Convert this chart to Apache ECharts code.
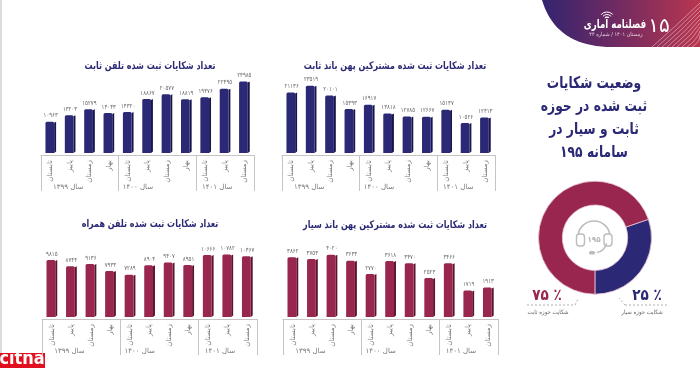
<!DOCTYPE html>
<html>
<head>
<meta charset="utf-8">
<style>
  html, body { margin: 0; padding: 0; background: #fff; }
  #chart { width: 700px; height: 368px; }
</style>
<script src="https://cdn.jsdelivr.net/npm/echarts@6/dist/echarts.min.js"></script>
</head>
<body>
<div id="chart"></div>
<script>
  const seasons = ['تابستان', 'پاییز', 'زمستان', 'بهار', 'تابستان', 'پاییز', 'زمستان', 'بهار', 'تابستان', 'پاییز', 'زمستان'];
  const years = ['سال ۱۳۹۹', 'سال ۱۴۰۰', 'سال ۱۴۰۱'];

  const fixedPhone = [10963, 13203, 15279, 14043, 14320, 18867, 20577, 18819, 19476, 22495, 24985];
  const fixedBroadband = [21136, 23519, 20101, 15393, 16917, 13818, 12785, 12667, 15137, 10526, 12413];
  const mobilePhone = [9815, 8744, 9136, 7933, 7289, 8904, 9407, 8951, 10666, 10782, 10467];
  const mobileBroadband = [3862, 3753, 4020, 3633, 2770, 3618, 3470, 2523, 3466, 1719, 1913];

  // the ring in the picture is not cut 25/75, it is drawn about 30/70, the printed labels stay as they are
  const ringNames = ['شکایت حوزه سیار', 'شکایت حوزه ثابت'];
  const ringDrawn = [30.3, 69.7];
  const ringLabels = ['۲۵ ٪', '۷۵ ٪'];

  const BLUE = '#2b2975';
  const BLUE_SIDE = '#17164a';
  const RED = '#98264f';
  const RED_SIDE = '#5a142e';
  const FONT = '"DejaVu Sans", sans-serif';

  function toPersian (n) {
    return String(n).replace(/\d/g, function (d) {
      return '۰۱۲۳۴۵۶۷۸۹'[d];
    });
  }

  function barItem (front, side) {
    return function (params, api) {
      let i = api.value(0);
      let top = api.coord([i, api.value(1)]);
      let base = api.coord([i, 0]);
      let band = api.size([1, 0])[0];
      let x = top[0] - band * 0.27;
      let w = band * 0.45;
      let d = band * 0.1;
      return {
        type: 'group',
        children: [{
          type: 'polygon',
          shape: { points: [[x + w, top[1] + 1], [x + w + d, top[1]], [x + w + d, base[1] - 1.5], [x + w, base[1]]] },
          style: { fill: side }
        }, {
          type: 'rect',
          shape: { x: x, y: top[1], width: w, height: base[1] - top[1], r: [1.5, 1.5, 0, 0] },
          style: { fill: front }
        }, {
          type: 'text',
          x: top[0],
          y: top[1] - 6,
          scaleX: 0.82,
          style: {
            text: toPersian(api.value(1)),
            fill: '#6a6a6a',
            font: '6.5px ' + FONT,
            textAlign: 'center',
            textVerticalAlign: 'middle'
          }
        }]
      };
    };
  }

  const grid = [];
  const xAxis = [];
  const yAxis = [];
  const series = [];

  function addChart (values, left, width, base, height, max, front, side) {
    let n = grid.length;
    grid.push({ left: left, top: base - height, width: width, height: height });
    xAxis.push({
      type: 'category',
      gridIndex: n,
      data: seasons,
      offset: 2,
      axisLine: { show: false },
      axisTick: { show: false },
      axisLabel: {
        interval: 0,
        rotate: 90,
        margin: 5,
        color: '#777',
        fontSize: 7,
        fontFamily: FONT
      }
    });
    xAxis.push({
      type: 'value',
      gridIndex: n,
      position: 'bottom',
      min: 0,
      max: 11,
      offset: 2,
      splitLine: { show: false },
      axisLine: { show: true, lineStyle: { color: '#c4c4c4', width: 1 } },
      axisTick: {
        show: true,
        length: 36,
        customValues: [0, 4, 8, 11],
        lineStyle: { color: '#c4c4c4', width: 1 }
      },
      axisLabel: {
        show: true,
        margin: 29,
        color: '#777',
        fontSize: 7,
        fontFamily: FONT,
        customValues: [1.4, 5, 9.1],
        formatter: function (v) {
          return years[[1.4, 5, 9.1].indexOf(v)];
        }
      }
    });
    yAxis.push({ type: 'value', gridIndex: n, min: 0, max: max, show: false });
    series.push({
      type: 'custom',
      xAxisIndex: n * 2,
      yAxisIndex: n,
      data: values.map(function (v, i) { return [i, v]; }),
      encode: { x: 0, y: 1 },
      renderItem: barItem(front, side)
    });
  }

  addChart(fixedPhone, 41, 213, 153, 80, 28000, BLUE, BLUE_SIDE);
  addChart(fixedBroadband, 282, 213, 153, 80, 28000, BLUE, BLUE_SIDE);
  addChart(mobilePhone, 42, 215, 317, 72, 12400, RED, RED_SIDE);
  addChart(mobileBroadband, 283, 215, 317, 72, 4650, RED, RED_SIDE);

  // DejaVu is wider than the font of the picture, so the text gets squeezed
  function text (str, x, y, size, color, weight, squeeze) {
    return {
      type: 'text',
      x: x,
      y: y,
      scaleX: squeeze || 0.76,
      style: {
        text: str,
        fill: color,
        font: (weight || 'normal') + ' ' + size + 'px ' + FONT,
        textAlign: 'center',
        textVerticalAlign: 'middle'
      }
    };
  }

  function line (x1, y1, x2, y2, color, dash) {
    return {
      type: 'line',
      shape: { x1: x1, y1: y1, x2: x2, y2: y2 },
      style: { stroke: color, lineWidth: 0.8, lineDash: dash || null }
    };
  }

  function arc (cx, cy, r, a, b, color, width) {
    return {
      type: 'arc',
      shape: { cx: cx, cy: cy, r: r, startAngle: a, endAngle: b },
      style: { stroke: color, fill: null, lineWidth: width }
    };
  }

  // banner outline, left edge is a curve
  const bannerPoints = [];
  for (let t = 0; t <= 1; t += 0.05) {
    bannerPoints.push([
      (1 - t) * (1 - t) * 542 + 2 * t * (1 - t) * 556 + t * t * 612,
      2 * t * (1 - t) * 47 + t * t * 47
    ]);
  }
  bannerPoints.push([700, 47], [700, 0]);

  const graphic = [
    { type: 'rect', shape: { x: 0, y: 0, width: 2, height: 368 }, style: { fill: '#dcdcdc' } },
    {
      type: 'polygon',
      shape: { points: bannerPoints },
      style: {
        fill: {
          type: 'linear', x: 0, y: 0, x2: 1, y2: 0,
          colorStops: [{ offset: 0, color: '#33246f' }, { offset: 0.45, color: '#6d2a62' }, { offset: 1, color: '#b8364f' }]
        }
      }
    }
  ];

  for (let i = 0; i < 9; i++) {
    graphic.push({
      type: 'bezierCurve',
      shape: {
        x1: 652 + i * 5, y1: 47,
        x2: 700, y2: 3 + i * 4,
        cpx1: 676 + i * 3, cpy1: 26 + i * 2
      },
      style: { stroke: '#f7dde0', fill: null, lineWidth: 0.6, opacity: 0.85 }
    });
  }

  graphic.push(
    text('تعداد شکایات ثبت شده تلفن ثابت', 150, 66, 10.5, BLUE, 'bold'),
    text('تعداد شکایات ثبت شده مشترکین پهن باند ثابت', 395, 66, 10.5, BLUE, 'bold'),
    text('تعداد شکایات ثبت شده تلفن همراه', 150, 224, 10.5, BLUE, 'bold'),
    text('تعداد شکایات ثبت شده مشترکین پهن باند سیار', 395, 225, 10.5, BLUE, 'bold'),

    arc(607, 20, 3, -2.4, -0.74, '#fff', 1),
    arc(607, 20, 5.5, -2.4, -0.74, '#fff', 1),
    arc(607, 20, 8, -2.4, -0.74, '#fff', 1),
    text('فصلنامه آماری', 615, 25, 12, '#fff', 'bold', 0.72),
    text('زمستان ۱۴۰۱ / شماره ۴۴', 616, 35, 5.5, '#e6cfdc', 'normal', 0.9),
    text('۱۵', 659, 27, 20, '#fff', 'normal', 1),

    text('وضعیت شکایات', 594, 84, 16, BLUE, 'bold', 0.77),
    text('ثبت شده در حوزه', 594, 107, 16, BLUE, 'bold', 0.77),
    text('ثابت و سیار در', 594, 130, 16, BLUE, 'bold', 0.77),
    text('سامانه ۱۹۵', 594, 153, 16, BLUE, 'bold', 0.77),

    // headset in the ring
    arc(594, 237, 16, Math.PI, 0, '#bcbcbc', 1.6),
    { type: 'rect', shape: { x: 576.5, y: 234, width: 8, height: 12, r: 3 }, style: { fill: '#fff', stroke: '#bcbcbc', lineWidth: 1.4 } },
    { type: 'rect', shape: { x: 604, y: 234, width: 8, height: 12, r: 3 }, style: { fill: '#fff', stroke: '#bcbcbc', lineWidth: 1.4 } },
    arc(594, 240, 13, 0.25, 1.35, '#bcbcbc', 1.4),
    { type: 'rect', shape: { x: 589, y: 251, width: 6, height: 3.4, r: 1.5 }, style: { fill: '#bcbcbc' } },
    text('۱۹۵', 594, 240, 8, '#b5b5b5', 'bold', 0.9),

    text(ringLabels[1], 547, 296, 16, RED, 'bold', 0.85),
    line(527, 305, 575, 305, '#9a9a9a', [2, 2]),
    line(575, 305, 578, 299, '#9a9a9a', [2, 2]),
    text(ringNames[1], 548, 312, 6, '#666', 'normal', 0.9),

    text(ringLabels[0], 647, 296, 16, BLUE, 'bold', 0.85),
    line(625, 305, 668, 305, '#9a9a9a', [2, 2]),
    line(625, 305, 619, 298, '#9a9a9a', [2, 2]),
    text(ringNames[0], 642, 312, 6, '#666', 'normal', 0.9),

    { type: 'rect', shape: { x: 0, y: 353, width: 45, height: 15 }, style: { fill: '#e0101f' } },
    text('citna', 22, 359.5, 17, '#fff', 'bold', 0.95)
  );

  series.push({
    type: 'pie',
    center: [595, 237.7],
    radius: [32.7, 56.5],
    startAngle: 19,
    silent: true,
    label: { show: false },
    labelLine: { show: false },
    itemStyle: { borderColor: '#e9c3d5', borderWidth: 0.8 },
    data: [
      { name: ringNames[0], value: ringDrawn[0], itemStyle: { color: BLUE } },
      { name: ringNames[1], value: ringDrawn[1], itemStyle: { color: RED } }
    ]
  });

  const myChart = echarts.init(document.getElementById('chart'));
  myChart.setOption({
    animation: false,
    backgroundColor: '#fff',
    grid: grid,
    xAxis: xAxis,
    yAxis: yAxis,
    series: series,
    graphic: graphic
  });
</script>
</body>
</html>
